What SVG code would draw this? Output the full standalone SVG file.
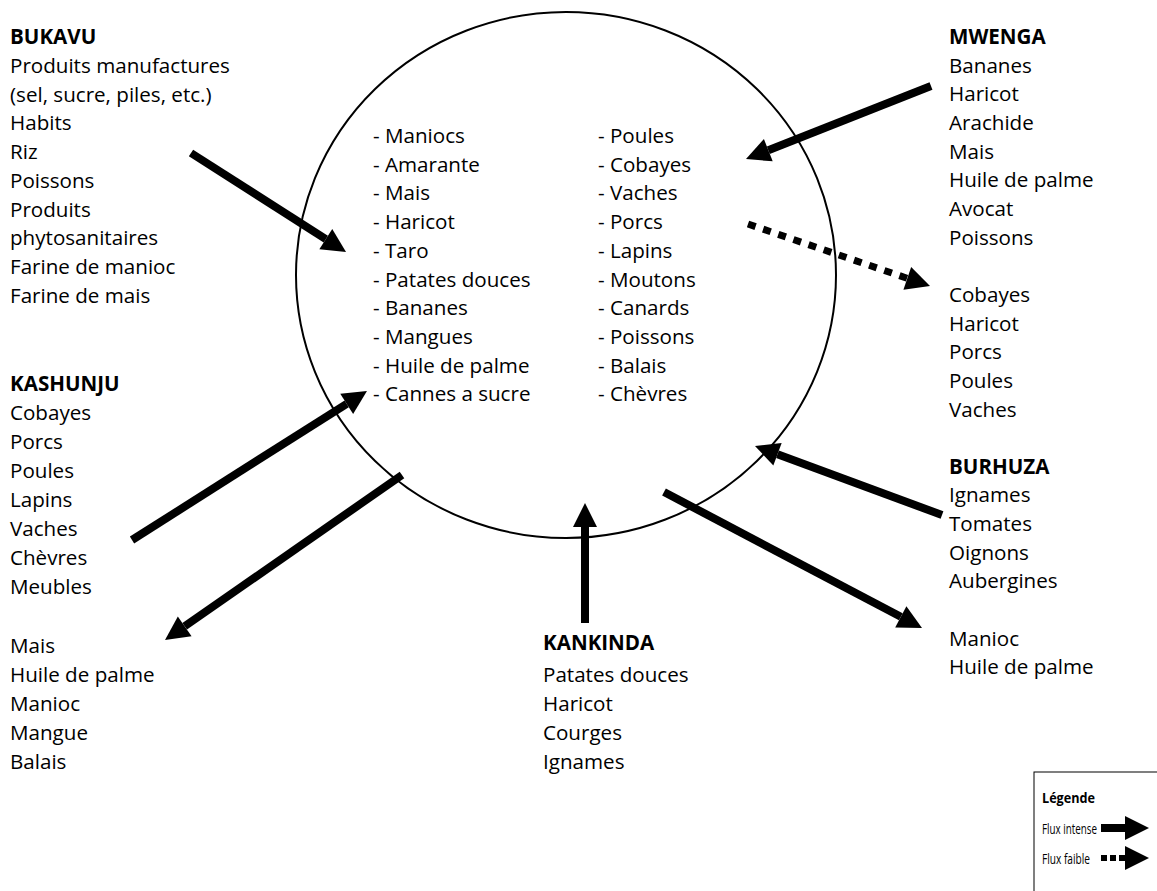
<svg xmlns="http://www.w3.org/2000/svg" width="1157" height="891" viewBox="0 0 1157 891">
<defs>
<style>
text{font-family:"Open Sans","Liberation Sans",sans-serif;font-size:20.6px;fill:#000}
.b{font-weight:bold}
.lg{font-size:15px}
.arr{stroke:#000;stroke-width:8;fill:none;marker-end:url(#ah)}
.dot{stroke:#000;stroke-width:7;fill:none;stroke-dasharray:8 8;marker-end:url(#ah)}
</style>
<marker id="ah" markerUnits="userSpaceOnUse" markerWidth="24" markerHeight="24" viewBox="0 -12 24 24" refX="0" refY="0" orient="auto" overflow="visible">
<path d="M0,-12 L24,0 L0,12 z" fill="#000"/>
</marker>
</defs>
<rect width="1157" height="891" fill="#fff"/>
<g id="centre">
<ellipse cx="566" cy="275" rx="270" ry="263" fill="none" stroke="#000" stroke-width="2"/>
<text x="373" y="143">- Maniocs</text>
<text x="373" y="171.7">- Amarante</text>
<text x="373" y="200.4">- Mais</text>
<text x="373" y="229.1">- Haricot</text>
<text x="373" y="257.8">- Taro</text>
<text x="373" y="286.5">- Patates douces</text>
<text x="373" y="315.2">- Bananes</text>
<text x="373" y="343.9">- Mangues</text>
<text x="373" y="372.6">- Huile de palme</text>
<text x="373" y="401.3">- Cannes a sucre</text>
<text x="598" y="143">- Poules</text>
<text x="598" y="171.7">- Cobayes</text>
<text x="598" y="200.4">- Vaches</text>
<text x="598" y="229.1">- Porcs</text>
<text x="598" y="257.8">- Lapins</text>
<text x="598" y="286.5">- Moutons</text>
<text x="598" y="315.2">- Canards</text>
<text x="598" y="343.9">- Poissons</text>
<text x="598" y="372.6">- Balais</text>
<text x="598" y="401.3">- Chèvres</text>
</g>
<g id="bukavu">
<text x="10" y="44" class="b">BUKAVU</text>
<text x="10" y="72.8">Produits manufactures</text>
<text x="10" y="101.5">(sel, sucre, piles, etc.)</text>
<text x="10" y="130.3">Habits</text>
<text x="10" y="159">Riz</text>
<text x="10" y="187.8">Poissons</text>
<text x="10" y="216.5">Produits</text>
<text x="10" y="245.3">phytosanitaires</text>
<text x="10" y="274">Farine de manioc</text>
<text x="10" y="302.8">Farine de mais</text>
</g>
<g id="kashunju">
<text x="10" y="391" class="b">KASHUNJU</text>
<text x="10" y="420">Cobayes</text>
<text x="10" y="449">Porcs</text>
<text x="10" y="478">Poules</text>
<text x="10" y="507">Lapins</text>
<text x="10" y="536">Vaches</text>
<text x="10" y="565">Chèvres</text>
<text x="10" y="594">Meubles</text>
</g>
<g id="kashunju-out">
<text x="10" y="653.1">Mais</text>
<text x="10" y="682">Huile de palme</text>
<text x="10" y="710.9">Manioc</text>
<text x="10" y="739.8">Mangue</text>
<text x="10" y="768.7">Balais</text>
</g>
<g id="kankinda">
<text x="543" y="650" class="b">KANKINDA</text>
<text x="543" y="682">Patates douces</text>
<text x="543" y="710.9">Haricot</text>
<text x="543" y="739.8">Courges</text>
<text x="543" y="768.7">Ignames</text>
</g>
<g id="mwenga">
<text x="949" y="44" class="b">MWENGA</text>
<text x="949" y="72.7">Bananes</text>
<text x="949" y="101.3">Haricot</text>
<text x="949" y="130">Arachide</text>
<text x="949" y="158.6">Mais</text>
<text x="949" y="187.3">Huile de palme</text>
<text x="949" y="215.9">Avocat</text>
<text x="949" y="244.6">Poissons</text>
</g>
<g id="mwenga-out">
<text x="949" y="301.9">Cobayes</text>
<text x="949" y="330.5">Haricot</text>
<text x="949" y="359.2">Porcs</text>
<text x="949" y="387.8">Poules</text>
<text x="949" y="416.5">Vaches</text>
</g>
<g id="burhuza">
<text x="949" y="473.8" class="b">BURHUZA</text>
<text x="949" y="502.4">Ignames</text>
<text x="949" y="531.1">Tomates</text>
<text x="949" y="559.7">Oignons</text>
<text x="949" y="588.4">Aubergines</text>
</g>
<g id="burhuza-out">
<text x="949" y="645.7">Manioc</text>
<text x="949" y="674.3">Huile de palme</text>
</g>
<g id="connectors">
<line class="arr" x1="191" y1="153" x2="325.8" y2="239.1"/>
<line class="arr" x1="931" y1="86" x2="768.3" y2="150.2"/>
<line class="dot" x1="748" y1="224" x2="907.3" y2="278.3"/>
<line class="arr" x1="132" y1="540" x2="346.7" y2="403.8"/>
<line class="arr" x1="402" y1="475" x2="184.7" y2="626.3"/>
<line class="arr" x1="585" y1="623" x2="585" y2="527"/>
<line class="arr" x1="942" y1="515" x2="777.5" y2="454.3"/>
<line class="arr" x1="664" y1="492" x2="900.8" y2="616.8"/>
</g>
<g id="legende">
<rect x="1034" y="772" width="130" height="130" fill="none" stroke="#000" stroke-width="1"/>
<text x="1042" y="803" class="b lg" textLength="53" lengthAdjust="spacingAndGlyphs">Légende</text>
<text x="1042" y="834" class="lg" textLength="55" lengthAdjust="spacingAndGlyphs">Flux intense</text>
<text x="1042" y="864" class="lg" textLength="48" lengthAdjust="spacingAndGlyphs">Flux faible</text>
<line class="arr" x1="1101" y1="828" x2="1125" y2="828"/>
<line x1="1101" y1="858" x2="1125" y2="858" stroke="#000" stroke-width="6" stroke-dasharray="6 3" marker-end="url(#ah)"/>
</g>
</svg>
